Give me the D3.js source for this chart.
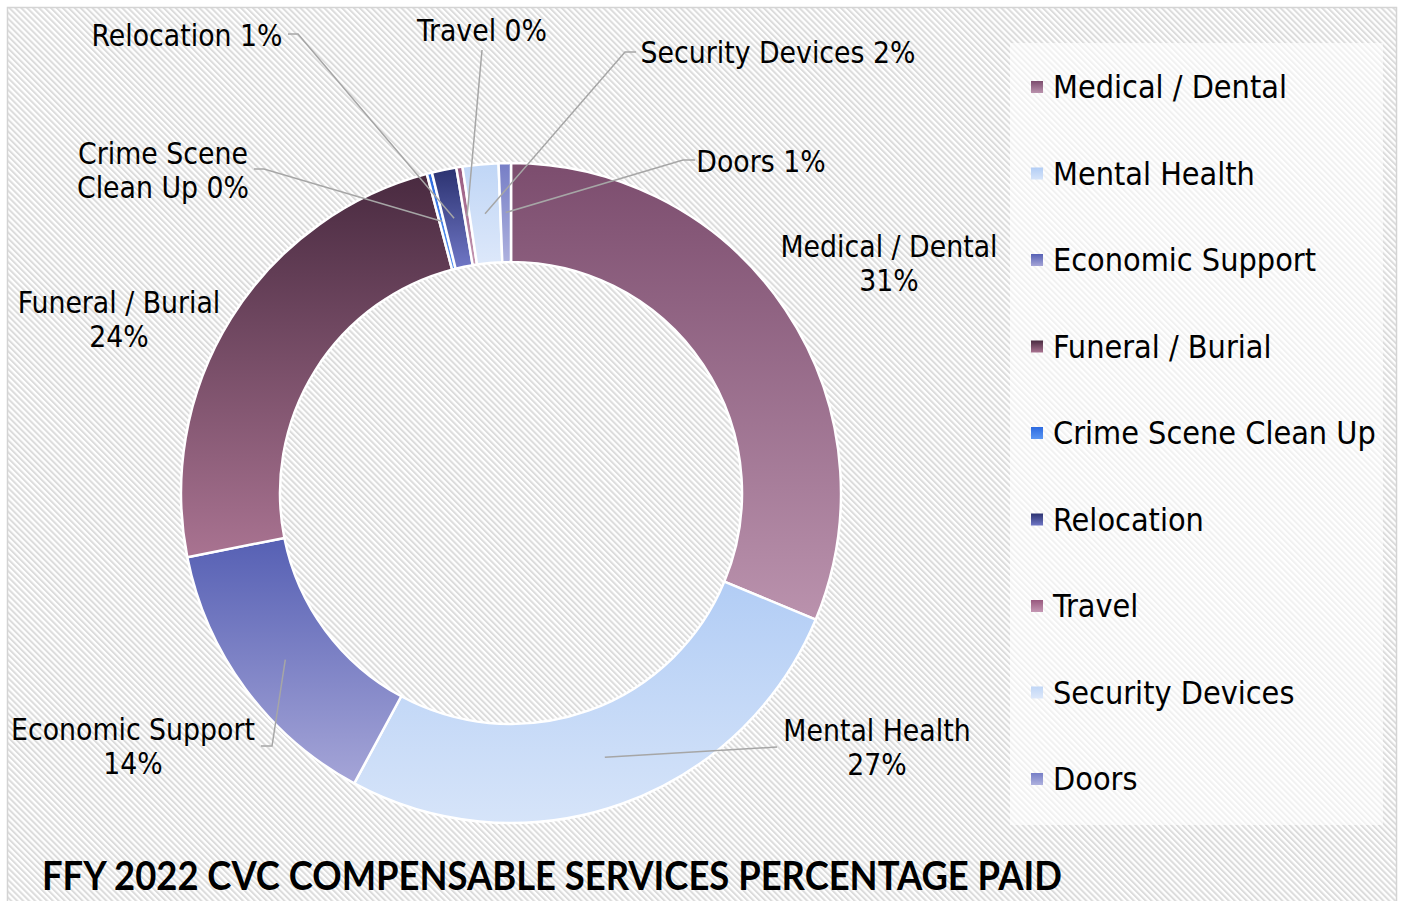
<!DOCTYPE html>
<html><head><meta charset="utf-8">
<script src="https://cdn.jsdelivr.net/npm/d3@7/dist/d3.min.js"></script>
<style>html,body{margin:0;padding:0;background:#fff;overflow:hidden} svg{display:block}</style>
</head><body>
<script>
// ---------- data ----------
const categories = ["Medical / Dental","Mental Health","Economic Support","Funeral / Burial",
  "Crime Scene Clean Up","Relocation","Travel","Security Devices","Doors"];
const percentPaid = [31.25, 26.6, 14.0, 24.0, 0.25, 1.2, 0.3, 1.75, 0.6];
const labelTemplates = ["Medical / Dental\n{p}","Mental Health\n{p}","Economic Support\n{p}",
  "Funeral / Burial\n{p}","Crime Scene\nClean Up {p}","Relocation {p}","Travel {p}",
  "Security Devices {p}","Doors {p}"];
const chartTitle = "FFY 2022 CVC COMPENSABLE SERVICES PERCENTAGE PAID";

// ---------- styles ----------
const colorTop    = ["#7c4d6e","#b2cdf5","#5660b4","#492a40","#2c6ae0","#2b3270","#98587e","#c0d6f6","#767ec6"];
const colorBottom = ["#ba92ad","#d6e4f9","#a5a5d7","#a97391","#5a96f2","#7077c6","#c497b3","#dde8fa","#aeb1de"];

// ---------- layout ----------
const W = 1401, H = 901;
const cx = 511, cy = 493, outerR = 330, innerR = 231;
const labelPos = [[889,257],[877,741],[133,740],[119,313],[163,164],[187,46],[482,41],[778,63],[761,172]];
const leaderPts = [null, [[777,747]], [[272,746],[261,746]], null,
  [[264,169],[254,169]], [[298,34],[288,34]], [[482,50]], [[625,52],[636,52]], [[683,160],[695,160]]];
const lineH = 34;

const svg = d3.select("body").append("svg").attr("width", W).attr("height", H);
const defs = svg.append("defs");

// background stripe pattern
const P = 4.2;
const pat = defs.append("pattern").attr("id","stripes").attr("patternUnits","userSpaceOnUse")
  .attr("width",P).attr("height",P).attr("patternTransform","rotate(-45)");
pat.append("rect").attr("width",P).attr("height",P).attr("fill","#ffffff");
pat.append("rect").attr("width",2).attr("height",P).attr("fill","#dcdcdc");

categories.forEach((c,i)=>{
  const g = defs.append("linearGradient").attr("id","g"+i).attr("x1",0).attr("y1",0).attr("x2",0).attr("y2",1);
  g.append("stop").attr("offset","0%").attr("stop-color",colorTop[i]);
  g.append("stop").attr("offset","100%").attr("stop-color",colorBottom[i]);
});

svg.append("rect").attr("x",7.5).attr("y",7.5).attr("width",1389).attr("height",H)
  .attr("fill","url(#stripes)").attr("stroke","#d4d4d4").attr("stroke-width",1.5);

// ---------- donut ----------
const pie = d3.pie().sort(null).value(d=>d)(percentPaid);
const arc = d3.arc().innerRadius(innerR).outerRadius(outerR);
const gPie = svg.append("g").attr("transform",`translate(${cx},${cy})`);
gPie.selectAll("path").data(pie).join("path")
  .attr("d",arc).attr("fill",(d,i)=>`url(#g${i})`)
  .attr("stroke","#ffffff").attr("stroke-width",2.5).attr("stroke-linejoin","round");

// leader lines
pie.forEach((d,i)=>{
  if(!leaderPts[i]) return;
  const c = arc.centroid(d);
  const pts = [[cx+c[0], cy+c[1]], ...leaderPts[i]];
  svg.append("path").attr("d", d3.line()(pts)).attr("fill","none")
    .attr("stroke","#a6a6a6").attr("stroke-width",1.5);
});

// ---------- text ----------
const labelFont = "'DejaVu Sans Condensed','DejaVu Sans',sans-serif";
function measure(txt, font, weight, size){
  const t = svg.append("text").attr("font-family",font).attr("font-weight",weight||"normal")
    .attr("font-size",size).style("font-stretch","condensed").text(txt);
  const w = t.node().getComputedTextLength(); t.remove(); return w;
}
const labelSize = 100 * 217 / measure("Medical / Dental", labelFont, "normal", 100);
const legendSize = 100 * 234 / measure("Medical / Dental", labelFont, "normal", 100);

const fmt = v => Math.round(v) + "%";
const gLab = svg.append("g").attr("font-family",labelFont).style("font-stretch","condensed")
  .attr("font-size",labelSize).attr("fill","#000").attr("text-anchor","middle");
percentPaid.forEach((v,i)=>{
  const lines = labelTemplates[i].replace("{p}", fmt(v)).split("\n");
  const t = gLab.append("text").attr("x",labelPos[i][0]).attr("y",labelPos[i][1]);
  lines.forEach((ln,k)=> t.append("tspan").attr("x",labelPos[i][0]).attr("dy",k?lineH:0).text(ln));
});

// ---------- legend ----------
const lgX = 1010, lgY = 43, lgW = 373, lgH = 782;
svg.append("rect").attr("x",lgX).attr("y",lgY).attr("width",lgW).attr("height",lgH)
  .attr("fill","#ffffff").attr("fill-opacity",0.6);
const legendY = d3.scalePoint().domain(categories).range([87, 779]);
const lg = svg.append("g").attr("font-family",labelFont).style("font-stretch","condensed")
  .attr("font-size",legendSize);
categories.forEach((c,i)=>{
  const y = legendY(c);
  lg.append("rect").attr("x",1031).attr("y",y-6).attr("width",12).attr("height",12).attr("fill",`url(#g${i})`);
  lg.append("text").attr("x",1053).attr("y",y+11).text(c);
});

// ---------- title ----------
const titleFont = "Lato,'Open Sans',sans-serif";
svg.append("text").attr("x",42).attr("y",890).attr("font-family",titleFont).attr("font-weight","bold")
  .attr("font-size",41).attr("textLength",1020).attr("lengthAdjust","spacingAndGlyphs")
  .attr("fill","#000").text(chartTitle);
</script>
</body></html>
